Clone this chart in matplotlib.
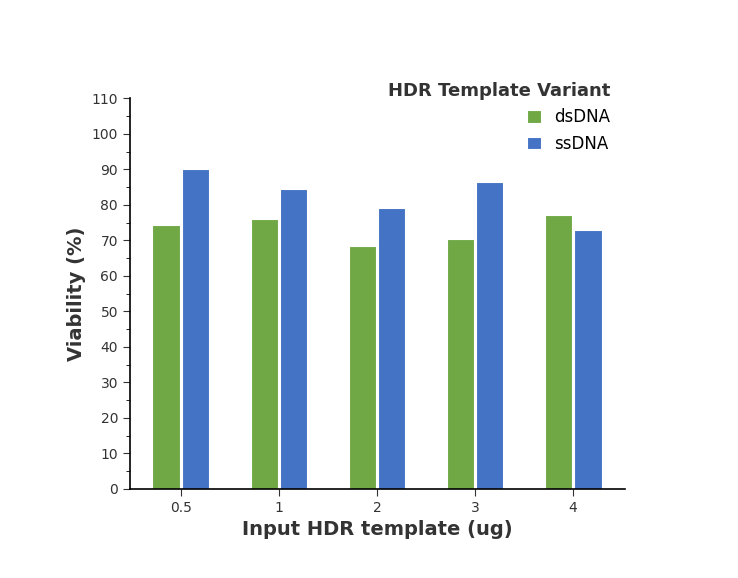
import numpy as np
import matplotlib.pyplot as plt
from matplotlib.ticker import MultipleLocator

categories = ["0.5", "1", "2", "3", "4"]
dsdna = [74.2, 76.0, 68.5, 70.3, 77.0]
ssdna = [90.0, 84.5, 79.0, 86.3, 72.8]

fig = plt.figure(figsize=(7.38, 5.78), dpi=100)
ax = fig.add_axes([0.176, 0.154, 0.671, 0.676])

x = np.arange(len(categories))
w = 0.28
ax.bar(x - w / 2 - 0.01, dsdna, w, color="#70a845", edgecolor="white", linewidth=0.8, label="dsDNA")
ax.bar(x + w / 2 + 0.01, ssdna, w, color="#4472c4", edgecolor="white", linewidth=0.8, label="ssDNA")

ax.set_xlim(-0.52, 4.53)
ax.set_ylim(0, 110)
ax.set_xticks(x)
ax.set_xticklabels(categories)
ax.yaxis.set_major_locator(MultipleLocator(10))
ax.yaxis.set_minor_locator(MultipleLocator(5))
ax.tick_params(axis="both", direction="out", labelsize=10, colors="#333333")
ax.tick_params(axis="y", which="major", length=5)
ax.tick_params(axis="y", which="minor", length=3)
ax.tick_params(axis="x", length=5)
for s in ["top", "right"]:
    ax.spines[s].set_visible(False)
for s in ["left", "bottom"]:
    ax.spines[s].set_linewidth(1.2)

ax.set_xlabel("Input HDR template (ug)", fontsize=14, fontweight="bold", color="#333333")
ax.set_ylabel("Viability (%)", fontsize=14, fontweight="bold", color="#333333")

leg = ax.legend(title="HDR Template Variant", loc="upper right", bbox_to_anchor=(1.0, 1.08),
                frameon=False, fontsize=12, title_fontsize=13, handlelength=0.8,
                handleheight=0.8, alignment="right")
leg.get_title().set_fontweight("bold")
leg.get_title().set_color("#333333")

fig.savefig("out.png", dpi=100)
